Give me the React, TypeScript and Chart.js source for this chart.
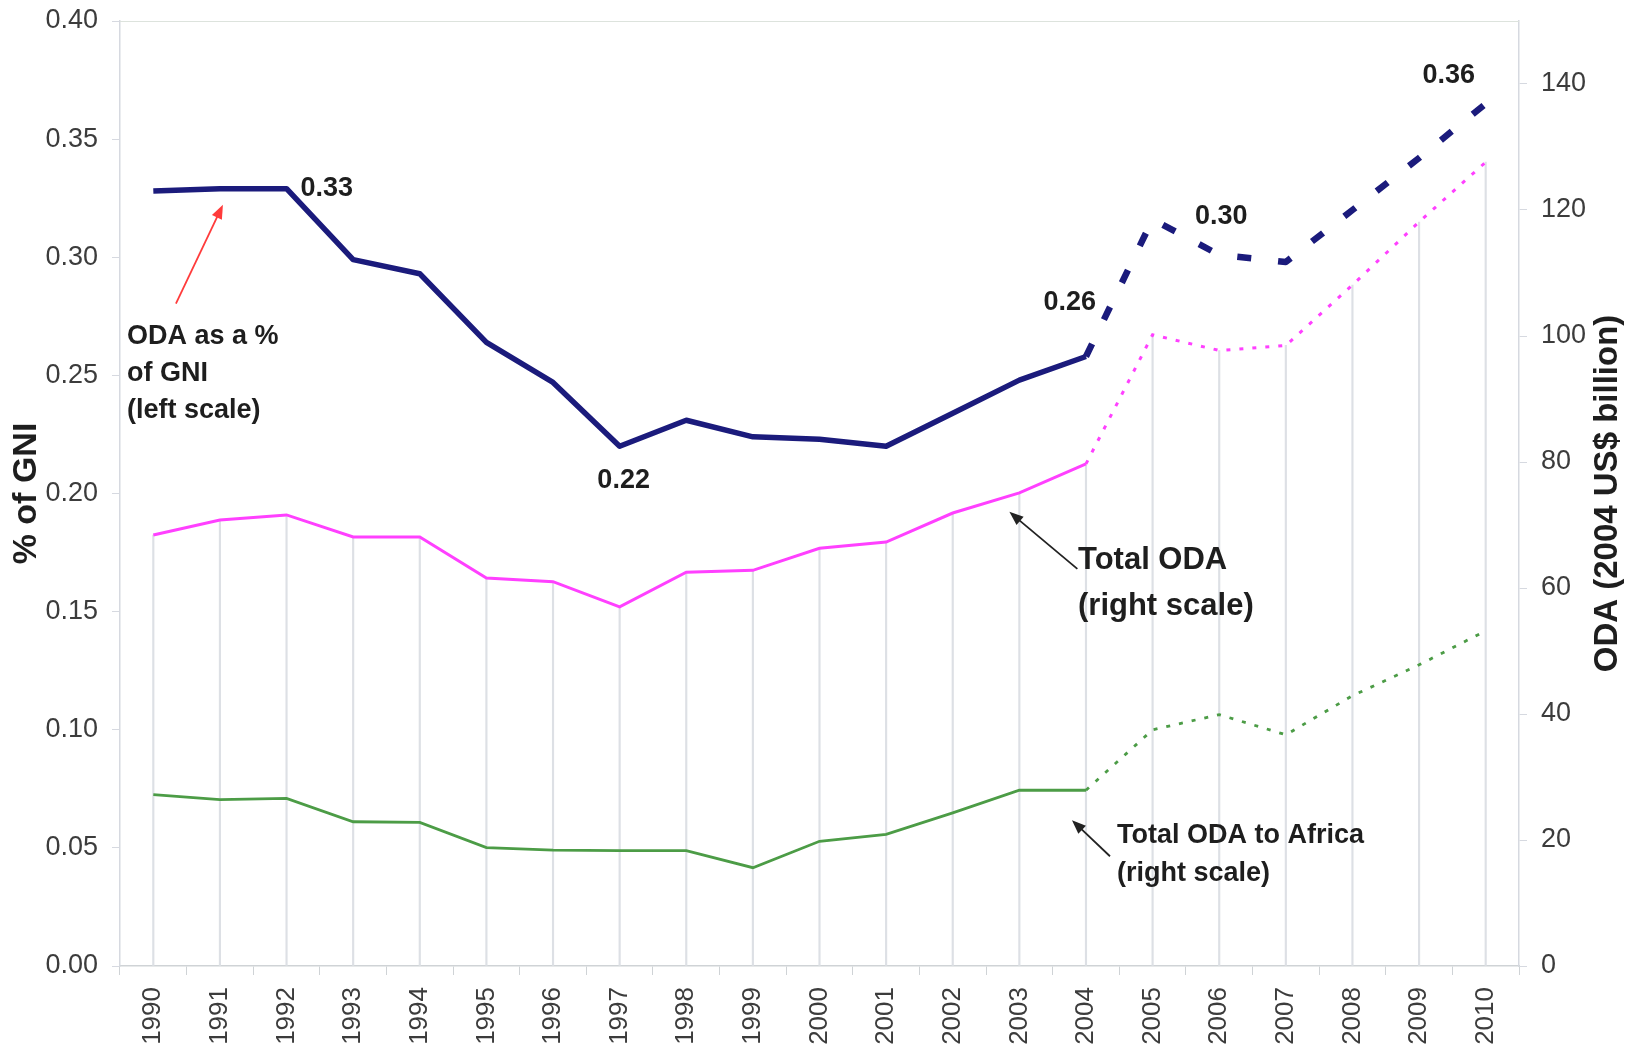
import React, { useEffect, useRef } from 'react';
import { Chart, registerables } from 'chart.js';

Chart.register(...registerables);

const years = ['1990', '1991', '1992', '1993', '1994', '1995', '1996', '1997', '1998', '1999', '2000', '2001', '2002', '2003', '2004', '2005', '2006', '2007', '2008', '2009', '2010'];
// ODA as a % of GNI (left scale)
const odaPctGni = [0.328, 0.329, 0.329, 0.299, 0.293, 0.264, 0.247, 0.220, 0.231, 0.224, 0.223, 0.220, 0.234, 0.248, 0.258, 0.316, 0.301, 0.298, 0.320, 0.342, 0.365];
// Total ODA, 2004 US$ billion (right scale)
const totalOda = [68.4, 70.8, 71.6, 68.1, 68.1, 61.6, 61.0, 57.0, 62.5, 62.8, 66.3, 67.3, 71.9, 75.1, 79.7, 100.2, 97.7, 98.5, 108.1, 118.1, 127.6];
// Total ODA to Africa, 2004 US$ billion (right scale)
const africaOda = [27.2, 26.4, 26.6, 22.9, 22.8, 18.8, 18.4, 18.3, 18.3, 15.6, 19.8, 20.9, 24.3, 27.9, 27.9, 37.5, 39.9, 36.7, 42.9, 47.8, 53.2];
const lastActualIndex = 14; // 2004: later years are projections

const leftAxis = { min: 0, max: 0.4, step: 0.05 };
const rightAxis = { min: 0, max: 150, step: 20, lastTick: 140 };

const valueLabels = [
  { index: 2, text: '0.33' },
  { index: 7, text: '0.22' },
  { index: 14, text: '0.26' },
  { index: 16, text: '0.30' },
  { index: 20, text: '0.36' },
];
const labelOffsets = [
  { dx: 14, dy: 0, align: 'left' },
  { dx: 4, dy: 34, align: 'center' },
  { dx: 10, dy: -54, align: 'right' },
  { dx: 2, dy: -38, align: 'center' },
  { dx: -37, dy: -28, align: 'center' },
];

const leftTitle = '% of GNI';
const rightTitle = 'ODA (2004 US$ billion)';
const gniNote = ['ODA as a %', 'of GNI', '(left scale)'];
const totalNote = ['Total ODA', '(right scale)'];
const africaNote = ['Total ODA to Africa', '(right scale)'];

const FONT = "'Liberation Sans', Arial, Helvetica, sans-serif";

function arrow(ctx: CanvasRenderingContext2D, x1: number, y1: number, x2: number, y2: number, color: string) {
  const ang = Math.atan2(y2 - y1, x2 - x1);
  const head = 14;
  const hw = 5.5;
  ctx.save();
  ctx.strokeStyle = color;
  ctx.fillStyle = color;
  ctx.lineWidth = 1.8;
  ctx.beginPath();
  ctx.moveTo(x1, y1);
  ctx.lineTo(x2 - Math.cos(ang) * head * 0.8, y2 - Math.sin(ang) * head * 0.8);
  ctx.stroke();
  ctx.beginPath();
  ctx.moveTo(x2, y2);
  ctx.lineTo(x2 - Math.cos(ang) * head - Math.sin(ang) * hw, y2 - Math.sin(ang) * head + Math.cos(ang) * hw);
  ctx.lineTo(x2 - Math.cos(ang) * head + Math.sin(ang) * hw, y2 - Math.sin(ang) * head - Math.cos(ang) * hw);
  ctx.closePath();
  ctx.fill();
  ctx.restore();
}

function lines(ctx: CanvasRenderingContext2D, texts: string[], x: number, y: number, gap: number, font: string) {
  ctx.save();
  ctx.font = font;
  ctx.fillStyle = '#1e1e1e';
  ctx.textAlign = 'left';
  ctx.textBaseline = 'middle';
  texts.forEach((t, i) => ctx.fillText(t, x, y + i * gap));
  ctx.restore();
}

const decorPlugin = {
  id: 'decor',
  beforeDatasetsDraw(chart: any) {
    const { ctx, chartArea: a } = chart;
    ctx.save();
    ctx.strokeStyle = '#dde3dd';
    ctx.lineWidth = 1.2;
    ctx.beginPath();
    ctx.moveTo(a.left, a.top + 0.5);
    ctx.lineTo(a.right, a.top + 0.5);
    ctx.stroke();
    ctx.restore();
  },
  afterDatasetsDraw(chart: any) {
    const { ctx, chartArea: a, scales } = chart;
    const x = scales.x;
    const y = scales.y;
    const y1 = scales.y1;

    // value labels
    ctx.save();
    ctx.font = `bold 27px ${FONT}`;
    ctx.fillStyle = '#1e1e1e';
    ctx.textBaseline = 'middle';
    valueLabels.forEach((l, i) => {
      const o = labelOffsets[i];
      ctx.textAlign = o.align;
      ctx.fillText(l.text, x.getPixelForValue(l.index) + o.dx, y.getPixelForValue(odaPctGni[l.index]) + o.dy);
    });
    ctx.restore();

    // axis titles (both read bottom to top)
    const cy = (a.top + a.bottom) / 2;
    ctx.save();
    ctx.fillStyle = '#1e1e1e';
    ctx.textAlign = 'center';
    ctx.textBaseline = 'middle';
    ctx.font = `bold 34px ${FONT}`;
    ctx.translate(27, cy);
    ctx.rotate(-Math.PI / 2);
    ctx.fillText(leftTitle, 0, 0);
    ctx.restore();
    ctx.save();
    ctx.fillStyle = '#1e1e1e';
    ctx.textAlign = 'center';
    ctx.textBaseline = 'middle';
    ctx.font = `bold 33px ${FONT}`;
    ctx.translate(chart.width - 29, cy);
    ctx.rotate(-Math.PI / 2);
    ctx.fillText(rightTitle, 0, 0);
    ctx.restore();

    // notes
    lines(ctx, gniNote, a.left + 7, 337, 37, `bold 27px ${FONT}`);
    const p1x = x.getPixelForValue(1);
    const p1y = y.getPixelForValue(odaPctGni[1]);
    arrow(ctx, p1x - 44, p1y + 115, p1x + 3, p1y + 16, '#ff3b3b');

    lines(ctx, totalNote, 1078, 560, 46, `bold 31px ${FONT}`);
    const t3x = x.getPixelForValue(13);
    const t3y = y1.getPixelForValue(totalOda[13]);
    arrow(ctx, t3x + 58, t3y + 76, t3x - 10, t3y + 19, '#222');

    lines(ctx, africaNote, 1117, 836, 38, `bold 27px ${FONT}`);
    const a4x = x.getPixelForValue(14);
    const a4y = y1.getPixelForValue(africaOda[14]);
    arrow(ctx, a4x + 24, a4y + 66, a4x - 14, a4y + 30, '#222');
  },
};

export default function App() {
  const ref = useRef<HTMLCanvasElement | null>(null);

  useEffect(() => {
    document.body.style.margin = '0';
    const canvas = ref.current;
    if (!canvas) return;
    const dashAfter = (dash: number[]) => (ctx: any) => (ctx.p0DataIndex >= lastActualIndex ? dash : undefined);
    const fitY = (w: number) => (s: any) => {
      s.width = w;
      s.paddingTop = 0;
      s.paddingBottom = 0;
    };

    const chart = new Chart(canvas, {
      type: 'line',
      data: {
        labels: years,
        datasets: [
          {
            type: 'line',
            label: 'ODA as a % of GNI',
            data: odaPctGni,
            yAxisID: 'y',
            borderColor: '#1b1b7c',
            borderWidth: 5.5,
            pointRadius: 0,
            tension: 0,
            borderJoinStyle: 'round',
            borderCapStyle: 'butt',
            segment: { borderDash: dashAfter([14, 27]), borderWidth: (c: any) => (c.p0DataIndex >= lastActualIndex ? 6.5 : undefined) },
            order: 1,
          },
          {
            type: 'line',
            label: 'Total ODA',
            data: totalOda,
            yAxisID: 'y1',
            borderColor: '#ff40ff',
            borderWidth: 3,
            pointRadius: 0,
            tension: 0,
            segment: { borderDash: dashAfter([4, 9]) },
            order: 2,
          },
          {
            type: 'line',
            label: 'Total ODA to Africa',
            data: africaOda,
            yAxisID: 'y1',
            borderColor: '#4c9c46',
            borderWidth: 2.8,
            pointRadius: 0,
            tension: 0,
            segment: { borderDash: dashAfter([4, 9]) },
            order: 3,
          },
          {
            type: 'bar',
            label: 'drop lines',
            data: totalOda,
            yAxisID: 'y1',
            backgroundColor: '#dde0e5',
            barThickness: 1.5,
            order: 10,
          } as any,
        ],
      },
      options: {
        responsive: false,
        animation: false,
        events: [],
        layout: { padding: { top: 21, left: 0, right: 0, bottom: 0 } },
        plugins: { legend: { display: false }, tooltip: { enabled: false }, title: { display: false } },
        scales: {
          x: {
            type: 'category',
            offset: true,
            afterFit: (s: any) => {
              s.height = 82;
              s.paddingLeft = 0;
              s.paddingRight = 0;
            },
            border: { display: true, color: '#cfd3d6', width: 1.5 },
            grid: { display: true, drawOnChartArea: false, drawTicks: true, tickLength: 9, offset: true, color: '#cfd3d6' },
            ticks: { minRotation: 90, maxRotation: 90, padding: 12, color: '#3c3c3c', font: { family: FONT, size: 26 }, autoSkip: false },
          },
          y: {
            type: 'linear',
            position: 'left',
            min: leftAxis.min,
            max: leftAxis.max,
            afterFit: fitY(120),
            border: { display: true, color: '#d6d9e0', width: 1.5 },
            grid: { display: true, drawOnChartArea: false, drawTicks: true, tickLength: 8, color: '#d6d9e0' },
            ticks: {
              stepSize: leftAxis.step,
              padding: 14,
              color: '#3c3c3c',
              font: { family: FONT, size: 27 },
              callback: (v: any) => Number(v).toFixed(2),
            },
          },
          y1: {
            type: 'linear',
            position: 'right',
            min: rightAxis.min,
            max: rightAxis.max,
            afterFit: fitY(118),
            afterBuildTicks: (s: any) => { s.ticks = s.ticks.filter((t: any) => t.value <= rightAxis.lastTick); },
            border: { display: true, color: '#d6d9e0', width: 1.5 },
            grid: { display: true, drawOnChartArea: false, drawTicks: true, tickLength: 8, color: '#d6d9e0' },
            ticks: {
              stepSize: rightAxis.step,
              padding: 14,
              color: '#3c3c3c',
              font: { family: FONT, size: 27 },
            },
          },
        },
      } as any,
      plugins: [decorPlugin as any],
    });
    return () => chart.destroy();
  }, []);

  return (
    <div style={{ position: 'fixed', left: 0, top: 0, width: 1637, height: 1048, background: '#fff' }}>
      <canvas ref={ref} width={1637} height={1048} style={{ width: 1637, height: 1048, display: 'block' }} />
    </div>
  );
}
